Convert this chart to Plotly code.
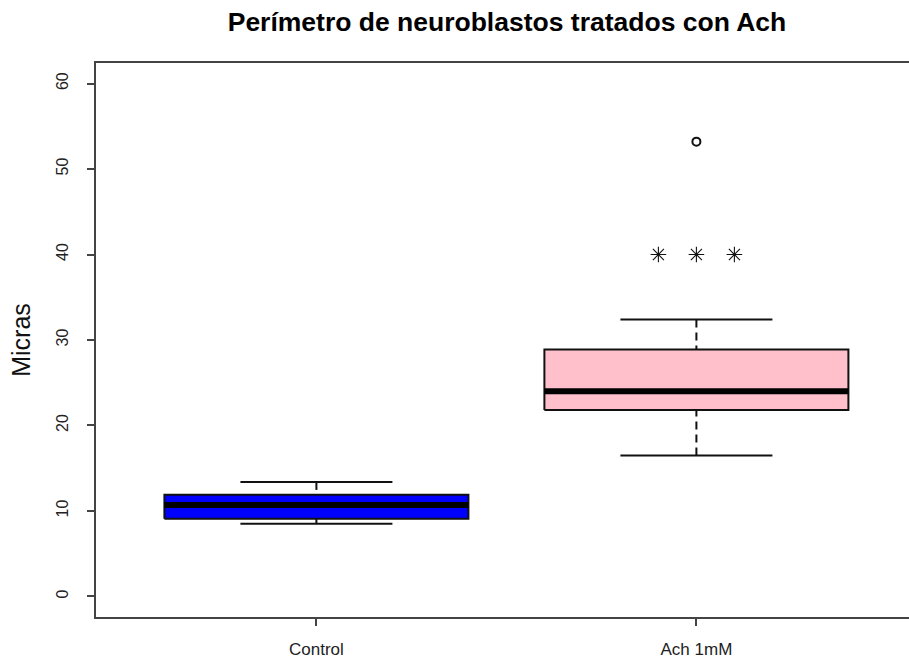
import plotly.graph_objects as go

# ---- data ----
groups = ["Control", "Ach 1mM"]
positions = [1, 2]
lower_whisker = [8.5, 16.5]
q1 = [9.1, 21.8]
median = [10.7, 24.0]
q3 = [11.9, 28.9]
upper_whisker = [13.4, 32.4]
fill_colors = ["#0000FF", "#FFC0CB"]

outlier_x = [2]
outlier_y = [53.2]

marker_x = [1.9, 2.0, 2.1]
marker_y = [40, 40, 40]

y_ticks = [0, 10, 20, 30, 40, 50, 60]

BOX_HALF = 0.4
CAP_HALF = 0.2
INK = "#111111"

fig = go.Figure()

for p, lo, a, m, b, hi, col in zip(positions, lower_whisker, q1, median, q3,
                                   upper_whisker, fill_colors):
    # whiskers (dashed, drawn from fence towards hinge as in R)
    fig.add_trace(go.Scatter(x=[p, p], y=[hi, b], mode="lines",
                             line=dict(color=INK, width=2, dash="8px,5px"),
                             hoverinfo="skip", showlegend=False))
    fig.add_trace(go.Scatter(x=[p, p], y=[lo, a], mode="lines",
                             line=dict(color=INK, width=2, dash="8px,5px"),
                             hoverinfo="skip", showlegend=False))
    # caps
    fig.add_trace(go.Scatter(x=[p - CAP_HALF, p + CAP_HALF], y=[hi, hi], mode="lines",
                             line=dict(color=INK, width=2),
                             hoverinfo="skip", showlegend=False))
    fig.add_trace(go.Scatter(x=[p - CAP_HALF, p + CAP_HALF], y=[lo, lo], mode="lines",
                             line=dict(color=INK, width=2),
                             hoverinfo="skip", showlegend=False))
    # box
    fig.add_trace(go.Scatter(x=[p - BOX_HALF, p + BOX_HALF, p + BOX_HALF, p - BOX_HALF, p - BOX_HALF],
                             y=[a, a, b, b, a], mode="lines", fill="toself",
                             fillcolor=col, line=dict(color=INK, width=2),
                             hoverinfo="skip", showlegend=False))
    # median
    fig.add_trace(go.Scatter(x=[p - BOX_HALF, p + BOX_HALF], y=[m, m], mode="lines",
                             line=dict(color="black", width=6),
                             hoverinfo="skip", showlegend=False))

# outlier
fig.add_trace(go.Scatter(x=outlier_x, y=outlier_y, mode="markers",
                         marker=dict(symbol="circle-open", size=8, color=INK,
                                     line=dict(width=2, color=INK)),
                         showlegend=False))
# asterisk markers
fig.add_trace(go.Scatter(x=marker_x, y=marker_y, mode="markers",
                         marker=dict(symbol="asterisk-open", size=13, color=INK,
                                     line=dict(width=1.1, color=INK)),
                         showlegend=False))

fig.update_layout(
    width=909, height=659,
    margin=dict(l=96, r=0, t=63, b=42),
    paper_bgcolor="white", plot_bgcolor="white",
    font=dict(family="Liberation Sans, Arial, sans-serif", color="#222"),
    title=dict(text="<b>Perímetro de neuroblastos tratados con Ach</b>",
               x=507 / 909, xref="container", xanchor="center",
               y=1 - 22 / 659, yref="container", yanchor="middle",
               font=dict(size=26.5, color="black")),
    xaxis=dict(range=[0.42, 0.42 + 813 / 380], showgrid=False, zeroline=False,
               tickmode="array", tickvals=positions, ticktext=groups,
               ticks="outside", ticklen=7, tickcolor="#444", tickwidth=1.5,
               showline=True, linecolor="#444", linewidth=1.5, mirror=True,
               tickfont=dict(size=17, color="#222"), ticklabelstandoff=9),
    yaxis=dict(range=[-2.4, 62.4], showgrid=False, zeroline=False,
               tickmode="array", tickvals=y_ticks,
               ticks="outside", ticklen=7, tickcolor="#444", tickwidth=1.5,
               showline=True, linecolor="#444", linewidth=1.5, mirror=False,
               tickangle=-90, tickfont=dict(size=16, color="#222"),
               ticklabelstandoff=13,
               title=dict(text="Micras", font=dict(size=25, color="#111"), standoff=16)),
)

fig.write_html("out.html")
